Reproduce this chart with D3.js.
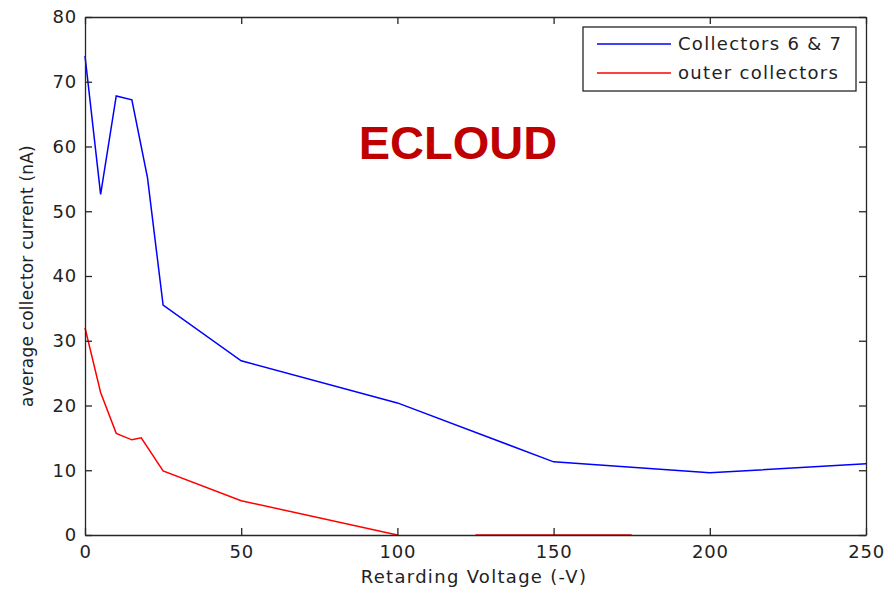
<!DOCTYPE html>
<html>
<head>
<meta charset="utf-8">
<script src="https://cdn.jsdelivr.net/npm/d3@7"></script>
<style>
  body { margin: 0; background: #fff; }
  text { font-family: "DejaVu Sans", "Liberation Sans", sans-serif; fill: #222; }
</style>
</head>
<body>
<div id="vis"></div>
<script>
// data
var voltage  = [0, 5, 10, 15, 20, 25, 50, 100, 150, 200, 250];
var inner    = [74, 52.6, 67.8, 67.2, 55.2, 35.5, 26.9, 20.4, 11.3, 9.6, 11.0];
var outerV   = [0, 5, 10, 15, 18, 25, 50, 100, null, 125, 175];
var outer    = [32, 22, 15.7, 14.7, 15.0, 9.9, 5.3, 0, null, 0, 0];
var xTicks = [0, 50, 100, 150, 200, 250];
var yTicks = [0, 10, 20, 30, 40, 50, 60, 70, 80];
var seriesNames = ["Collectors 6 & 7", "outer collectors"];
var seriesColors = ["#0000ff", "#ff0000"];

var W = 887, H = 589;
var margin = { top: 17, right: 21, bottom: 54, left: 85 },
    width = W - margin.left - margin.right,
    height = H - margin.top - margin.bottom;

var svg = d3.select("#vis").append("svg")
    .attr("width", W)
    .attr("height", H);

var g = svg.append("g")
    .attr("transform", "translate(" + margin.left + "," + margin.top + ")");

var x = d3.scaleLinear().domain([0, 250]).range([0, width]);
var y = d3.scaleLinear().domain([0, 80]).range([height, 0]);

// lines
var line = d3.line()
    .defined(function (d) { return d[1] !== null; })
    .x(function (d) { return x(d[0]); })
    .y(function (d) { return y(d[1]); });

var blueData = voltage.map(function (v, i) { return [v, inner[i]]; });
var redData = outerV.map(function (v, i) { return [v, outer[i]]; });

g.append("path").datum(blueData)
    .attr("d", line).attr("fill", "none")
    .attr("stroke", seriesColors[0]).attr("stroke-width", 1.5);

g.append("path").datum(redData)
    .attr("d", line).attr("fill", "none")
    .attr("stroke", seriesColors[1]).attr("stroke-width", 1.5);

// axes, matlab style: inward ticks on all four sides
var tickLen = 7;
function styleAxis(sel) {
    sel.selectAll("path").attr("stroke", "#262626").attr("stroke-width", 1.3);
    sel.selectAll("line").attr("stroke", "#262626").attr("stroke-width", 1.3);
    sel.selectAll("text")
        .style("font-size", "18px")
        .style("letter-spacing", "0.8px")
        .style("font-family", "'DejaVu Sans', sans-serif")
        .attr("fill", "#222");
}

g.append("g")
    .attr("transform", "translate(0," + height + ")")
    .call(d3.axisBottom(x).tickValues(xTicks).tickSizeInner(-tickLen).tickSizeOuter(0).tickPadding(10))
    .call(styleAxis);

g.append("g")
    .call(d3.axisTop(x).tickValues(xTicks).tickSizeInner(-tickLen).tickSizeOuter(0).tickFormat(""))
    .call(styleAxis);

g.append("g")
    .call(d3.axisLeft(y).tickValues(yTicks).tickSizeInner(-tickLen).tickSizeOuter(0).tickPadding(8))
    .call(styleAxis);

g.append("g")
    .attr("transform", "translate(" + width + ",0)")
    .call(d3.axisRight(y).tickValues(yTicks).tickSizeInner(-tickLen).tickSizeOuter(0).tickFormat(""))
    .call(styleAxis);

// axis labels
svg.append("text")
    .attr("x", 474)
    .attr("y", 583)
    .attr("text-anchor", "middle")
    .style("font-size", "18px")
    .style("letter-spacing", "1.3px")
    .text("Retarding Voltage (-V)");

svg.append("text")
    .attr("transform", "translate(33," + (margin.top + height / 2) + ") rotate(-90)")
    .attr("text-anchor", "middle")
    .style("font-size", "17px")
    .style("letter-spacing", "0.2px")
    .text("average collector current (nA)");

// ECLOUD annotation
svg.append("text")
    .attr("x", 458)
    .attr("y", 159)
    .attr("text-anchor", "middle")
    .style("font-family", "'Liberation Sans', Arial, sans-serif")
    .style("font-size", "47px")
    .style("font-weight", "bold")
    .style("fill", "#c00000")
    .text("ECLOUD");

// legend
var legend = svg.append("g").attr("transform", "translate(583,27)");
legend.append("rect")
    .attr("width", 273).attr("height", 64)
    .attr("fill", "#fff").attr("stroke", "#262626").attr("stroke-width", 1.3);

var item = legend.selectAll(".item")
    .data(seriesNames)
    .enter().append("g")
    .attr("class", "item")
    .attr("transform", function (d, i) { return "translate(0," + (17 + i * 29) + ")"; });

item.append("line")
    .attr("x1", 14).attr("x2", 88)
    .attr("stroke", function (d, i) { return seriesColors[i]; })
    .attr("stroke-width", 1.5);

item.append("text")
    .attr("x", 95)
    .attr("dy", "0.36em")
    .style("font-size", "18px")
    .style("letter-spacing", "1.3px")
    .text(function (d) { return d; });
</script>
</body>
</html>
